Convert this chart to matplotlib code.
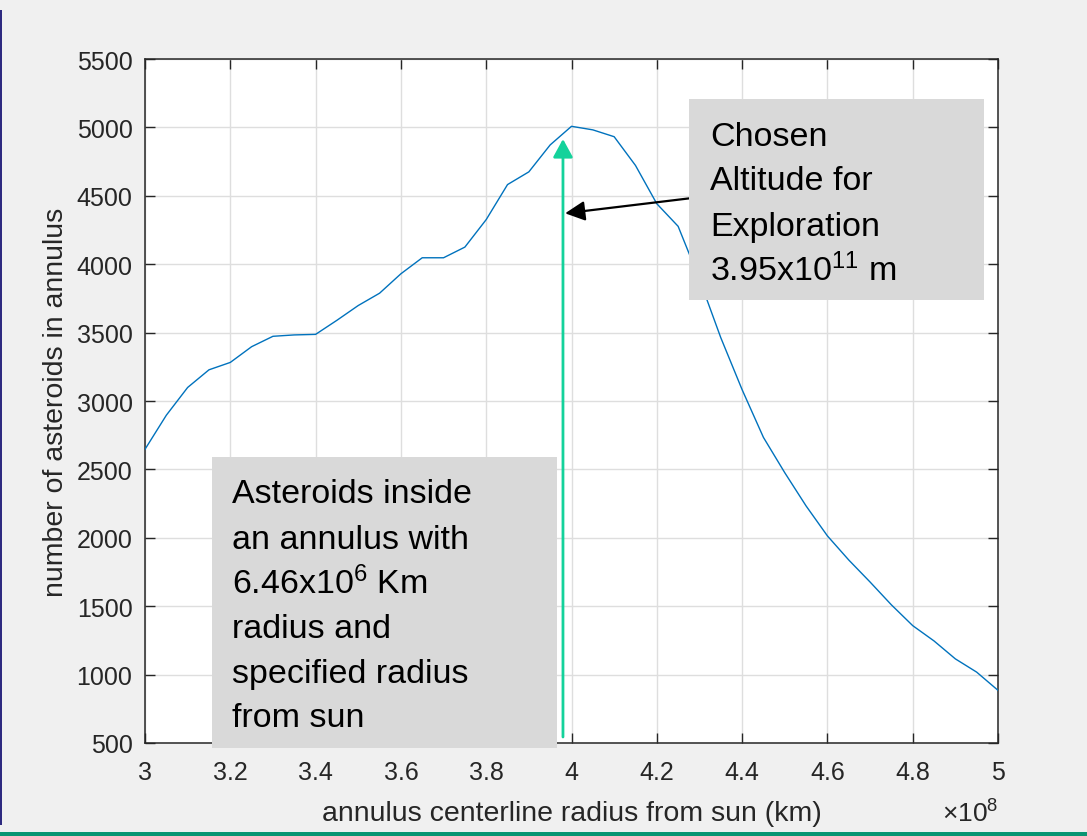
import matplotlib
matplotlib.use("Agg")
import matplotlib.pyplot as plt
from matplotlib.patches import Rectangle
from matplotlib.ticker import FuncFormatter, MultipleLocator

plt.rcParams['font.family'] = ['Liberation Sans', 'DejaVu Sans']
plt.rcParams['mathtext.fontset'] = 'custom'
plt.rcParams['mathtext.rm'] = 'Liberation Sans'
plt.rcParams['mathtext.it'] = 'Liberation Sans:italic'
plt.rcParams['mathtext.default'] = 'regular'

# ── data ──────────────────────────────────────────────────────────────────
radius_km = [3.00e8, 3.05e8, 3.10e8, 3.15e8, 3.20e8, 3.25e8, 3.30e8, 3.35e8,
             3.40e8, 3.45e8, 3.50e8, 3.55e8, 3.60e8, 3.65e8, 3.70e8, 3.75e8,
             3.80e8, 3.85e8, 3.90e8, 3.95e8, 4.00e8, 4.05e8, 4.10e8, 4.15e8,
             4.20e8, 4.25e8, 4.30e8, 4.35e8, 4.40e8, 4.45e8, 4.50e8, 4.55e8,
             4.60e8, 4.65e8, 4.70e8, 4.75e8, 4.80e8, 4.85e8, 4.90e8, 4.95e8,
             5.00e8]
n_asteroids = [2647, 2896, 3099, 3228, 3282, 3397, 3473, 3483,
               3487, 3590, 3698, 3788, 3930, 4047, 4047, 4125,
               4326, 4582, 4675, 4872, 5008, 4982, 4932, 4722,
               4442, 4277, 3890, 3463, 3083, 2734, 2476, 2233,
               2014, 1838, 1677, 1510, 1358, 1246, 1115, 1018,
               885]

chosen_r = 3.98e8            # green marker line
chosen_bottom, chosen_top = 544, 4915
pointer_from = (4.278e8, 4482)
pointer_to = (3.985e8, 4372)

chosen_lines = ["Chosen", "Altitude for", "Exploration", "3.95x10$^{11}$ m"]
note_lines = ["Asteroids inside", "an annulus with", "6.46x10$^{6}$ Km",
              "radius and", "specified radius", "from sun"]

# ── figure ────────────────────────────────────────────────────────────────
fig = plt.figure(figsize=(10.87, 8.37), dpi=100, facecolor='#f0f0f0')
ax = fig.add_axes([145/1087, 93/837, 853/1087, 684/837])
ax.set_facecolor('white')

ax.plot(radius_km, n_asteroids, color='#0072bd', lw=1.0, zorder=3)

ax.set_xlim(3e8, 5e8)
ax.set_ylim(500, 5500)
ax.xaxis.set_major_locator(MultipleLocator(0.2e8))
ax.yaxis.set_major_locator(MultipleLocator(500))
ax.xaxis.set_major_formatter(FuncFormatter(lambda v, p: f"{v/1e8:g}"))

ax.grid(True, color='#dedede', lw=1.0, zorder=0)
ax.set_axisbelow(True)
for s in ax.spines.values():
    s.set_color('#262626')
    s.set_linewidth(1.1)
ax.tick_params(direction='in', length=7.2, width=1.0, color='#262626',
               labelcolor='#262626', labelsize=18, top=True, right=True)
ax.tick_params(axis='x', pad=12)
ax.tick_params(axis='y', pad=9)

ax.set_xlabel("annulus centerline radius from sun (km)", fontsize=20.5, color='#262626')
ax.set_ylabel("number of asteroids in annulus", fontsize=20.5, color='#262626')
ax.xaxis.set_label_coords(0.5, -0.084)
ax.yaxis.set_label_coords(-0.089, 0.5)
ax.text(1.0, -0.1155, "×10$^{8}$", transform=ax.transAxes, ha='right',
        va='baseline', fontsize=19, color='#262626')

# green marker arrow
ax.annotate("", xy=(chosen_r, chosen_top), xytext=(chosen_r, chosen_bottom),
            arrowprops=dict(arrowstyle='-|>,head_length=0.55,head_width=0.3',
                            mutation_scale=20, color='#14d29b', lw=2.0,
                            shrinkA=0, shrinkB=0), zorder=4)
# black pointer
ax.annotate("", xy=pointer_to, xytext=pointer_from,
            arrowprops=dict(arrowstyle='-|>,head_length=0.6,head_width=0.3',
                            mutation_scale=20, color='black', lw=1.6,
                            shrinkA=0, shrinkB=0), zorder=4)

# text boxes
ax.add_patch(Rectangle((0.6377, 0.6477), 0.3459, 0.2938, transform=ax.transAxes,
                       facecolor='#d9d9d9', edgecolor='none', zorder=5, clip_on=False))
for line, fy in zip(chosen_lines, [0.8743, 0.8099, 0.7431, 0.6773]):
    ax.text(0.6624, fy, line, transform=ax.transAxes, fontsize=24.5,
            va='baseline', ha='left', color='black', zorder=6)

ax.add_patch(Rectangle((0.0785, -0.0073), 0.4045, 0.4254, transform=ax.transAxes,
                       facecolor='#d9d9d9', edgecolor='none', zorder=5, clip_on=False))
for line, fy in zip(note_lines, [0.3519, 0.2846, 0.2193, 0.1545, 0.0887, 0.0253]):
    ax.text(0.1020, fy, line, transform=ax.transAxes, fontsize=24.5,
            va='baseline', ha='left', color='black', zorder=6)

# slide frame bits
fig.patches.append(Rectangle((0, 11/837), 2/1087, 815/837, transform=fig.transFigure,
                             facecolor='#2e2a80', edgecolor='none'))
fig.patches.append(Rectangle((0, 0), 1, 4/837, transform=fig.transFigure,
                             facecolor='#0a9472', edgecolor='none'))

fig.savefig('out.png', dpi=100, facecolor=fig.get_facecolor())
